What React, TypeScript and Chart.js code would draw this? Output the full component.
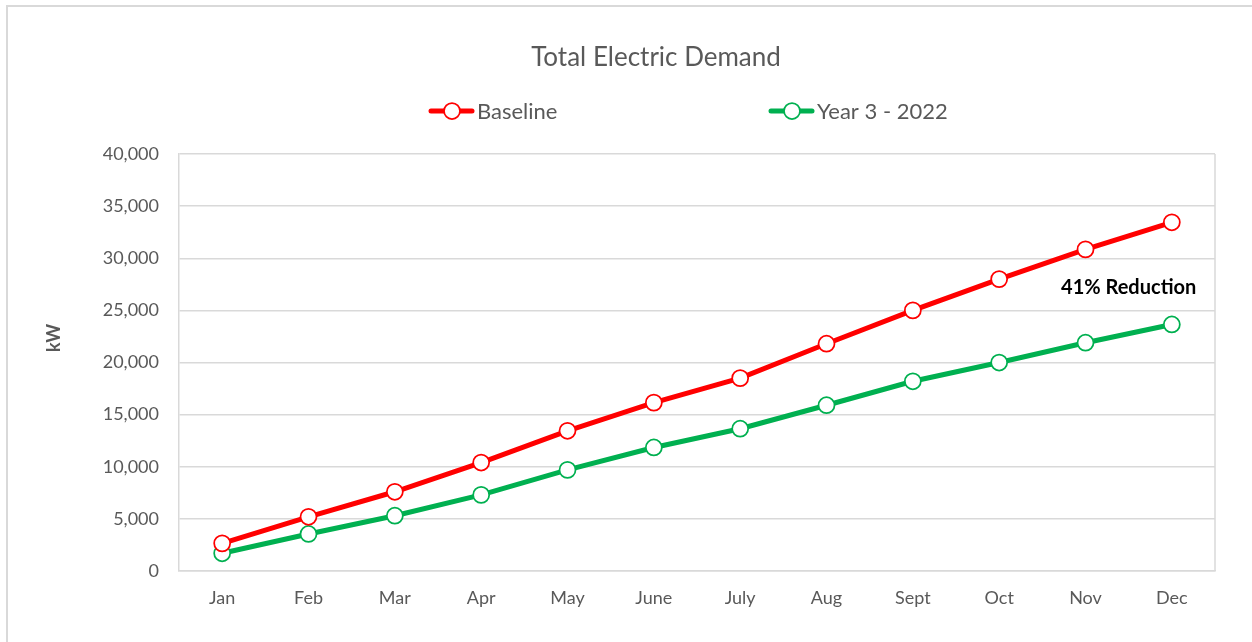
import React, { useEffect, useRef } from "react";
import { Chart, registerables } from "chart.js";

Chart.register(...registerables);

// ---- data ----
const months = ["Jan", "Feb", "Mar", "Apr", "May", "June", "July", "Aug", "Sept", "Oct", "Nov", "Dec"];
const baseline = [2650, 5200, 7600, 10400, 13450, 16150, 18500, 21800, 25000, 28000, 30850, 33450];
const year3 = [1700, 3550, 5300, 7300, 9700, 11850, 13650, 15900, 18200, 20000, 21900, 23650];
const seriesNames = ["Baseline", "Year 3 - 2022"];
const yMin = 0;
const yMax = 40000;
const yStep = 5000;
const chartTitle = "Total Electric Demand";
const yAxisTitle = "kW";
const annotationText = "41% Reduction";
const annotationValue = 27200;

// ---- style ----
const FONT = "Lato, 'Open Sans', sans-serif";
const TEXT = "#595959";
const GRID = "#d9d9d9";
const RED = "#ff0000";
const GREEN = "#00b050";

const overlayPlugin = {
  id: "overlay",
  beforeDatasetsDraw(chart: any) {
    const ctx = chart.ctx;
    const { right, top, bottom } = chart.chartArea;
    ctx.save();
    ctx.strokeStyle = GRID;
    ctx.lineWidth = 1.5;
    ctx.beginPath();
    ctx.moveTo(right, top);
    ctx.lineTo(right, bottom);
    ctx.stroke();
    ctx.restore();
  },
  afterDraw(chart: any) {
    const ctx = chart.ctx;
    ctx.save();
    // title
    ctx.fillStyle = TEXT;
    ctx.font = `26px ${FONT}`;
    ctx.textAlign = "center";
    ctx.textBaseline = "middle";
    ctx.fillText(chartTitle, 656, 58);

    // legend
    const legendStarts = [431, 771];
    chart.data.datasets.forEach((ds: any, i: number) => {
      const x0 = legendStarts[i];
      const y = 111;
      ctx.strokeStyle = ds.borderColor;
      ctx.lineWidth = 5;
      ctx.lineCap = "round";
      ctx.beginPath();
      ctx.moveTo(x0, y);
      ctx.lineTo(x0 + 41, y);
      ctx.stroke();
      ctx.beginPath();
      ctx.arc(x0 + 21, y, 8, 0, Math.PI * 2);
      ctx.fillStyle = "#ffffff";
      ctx.fill();
      ctx.lineWidth = 1.75;
      ctx.stroke();
      ctx.fillStyle = TEXT;
      ctx.font = `22px ${FONT}`;
      ctx.textAlign = "left";
      ctx.textBaseline = "middle";
      ctx.fillText(ds.label, x0 + 46, y + 1);
    });

    // y axis title
    ctx.save();
    ctx.translate(54, 338);
    ctx.rotate(-Math.PI / 2);
    ctx.fillStyle = TEXT;
    ctx.font = `bold 18px ${FONT}`;
    ctx.textAlign = "center";
    ctx.textBaseline = "middle";
    ctx.fillText(yAxisTitle, 0, 0);
    ctx.restore();

    // annotation
    const xs = chart.scales.x;
    const ys = chart.scales.y;
    const ax = (xs.getPixelForValue(10) + xs.getPixelForValue(11)) / 2;
    const ay = ys.getPixelForValue(annotationValue);
    ctx.fillStyle = "#000000";
    ctx.font = `bold 20px ${FONT}`;
    ctx.textAlign = "center";
    ctx.textBaseline = "middle";
    ctx.fillText(annotationText, ax, ay);
    ctx.restore();
  },
};

export default function App() {
  const canvasRef = useRef<HTMLCanvasElement | null>(null);

  useEffect(() => {
    const canvas = canvasRef.current;
    if (!canvas) return;
    const mkDs = (label: string, data: number[], color: string) => ({
      label,
      data,
      borderColor: color,
      backgroundColor: "#ffffff",
      pointBackgroundColor: "#ffffff",
      pointBorderColor: color,
      pointRadius: 8,
      pointHoverRadius: 8,
      pointBorderWidth: 1.75,
      borderWidth: 5,
      tension: 0,
      fill: false,
    });
    const chart = new Chart(canvas, {
      type: "line",
      data: {
        labels: months,
        datasets: [mkDs(seriesNames[0], baseline, RED), mkDs(seriesNames[1], year3, GREEN)],
      },
      options: {
        animation: false,
        responsive: false,
        devicePixelRatio: 1,
        layout: { padding: { left: 0, top: 154, right: 37, bottom: 0 } },
        plugins: {
          legend: { display: false },
          title: { display: false },
          tooltip: { enabled: false },
        },
        scales: {
          x: {
            offset: true,
            grid: { display: false, drawTicks: false },
            border: { display: true, color: GRID, width: 1.5 },
            ticks: {
              color: TEXT,
              font: { family: FONT, size: 18 },
              padding: 16,
              maxRotation: 0,
              autoSkip: false,
            },
            afterFit: (scale: any) => {
              scale.height = 71;
            },
          },
          y: {
            min: yMin,
            max: yMax,
            grid: { color: GRID, lineWidth: 1.5, drawTicks: false },
            border: { display: true, color: GRID, width: 1.5 },
            ticks: {
              stepSize: yStep,
              color: TEXT,
              font: { family: FONT, size: 18 },
              padding: 20,
              callback: (v: any) => Number(v).toLocaleString("en-US"),
            },
            afterFit: (scale: any) => {
              scale.width = 179;
            },
          },
        },
      },
      plugins: [overlayPlugin],
    });
    return () => chart.destroy();
  }, []);

  return (
    <div style={{ position: "fixed", left: 0, top: 0, width: 1252, height: 642, background: "#ffffff", overflow: "hidden" }}>
      <div
        style={{
          position: "absolute",
          left: 6,
          top: 5,
          right: 0,
          bottom: 0,
          borderLeft: `2px solid ${GRID}`,
          borderTop: `2px solid ${GRID}`,
        }}
      />
      <canvas ref={canvasRef} width={1252} height={642} style={{ position: "absolute", left: 0, top: 0 }} />
    </div>
  );
}
